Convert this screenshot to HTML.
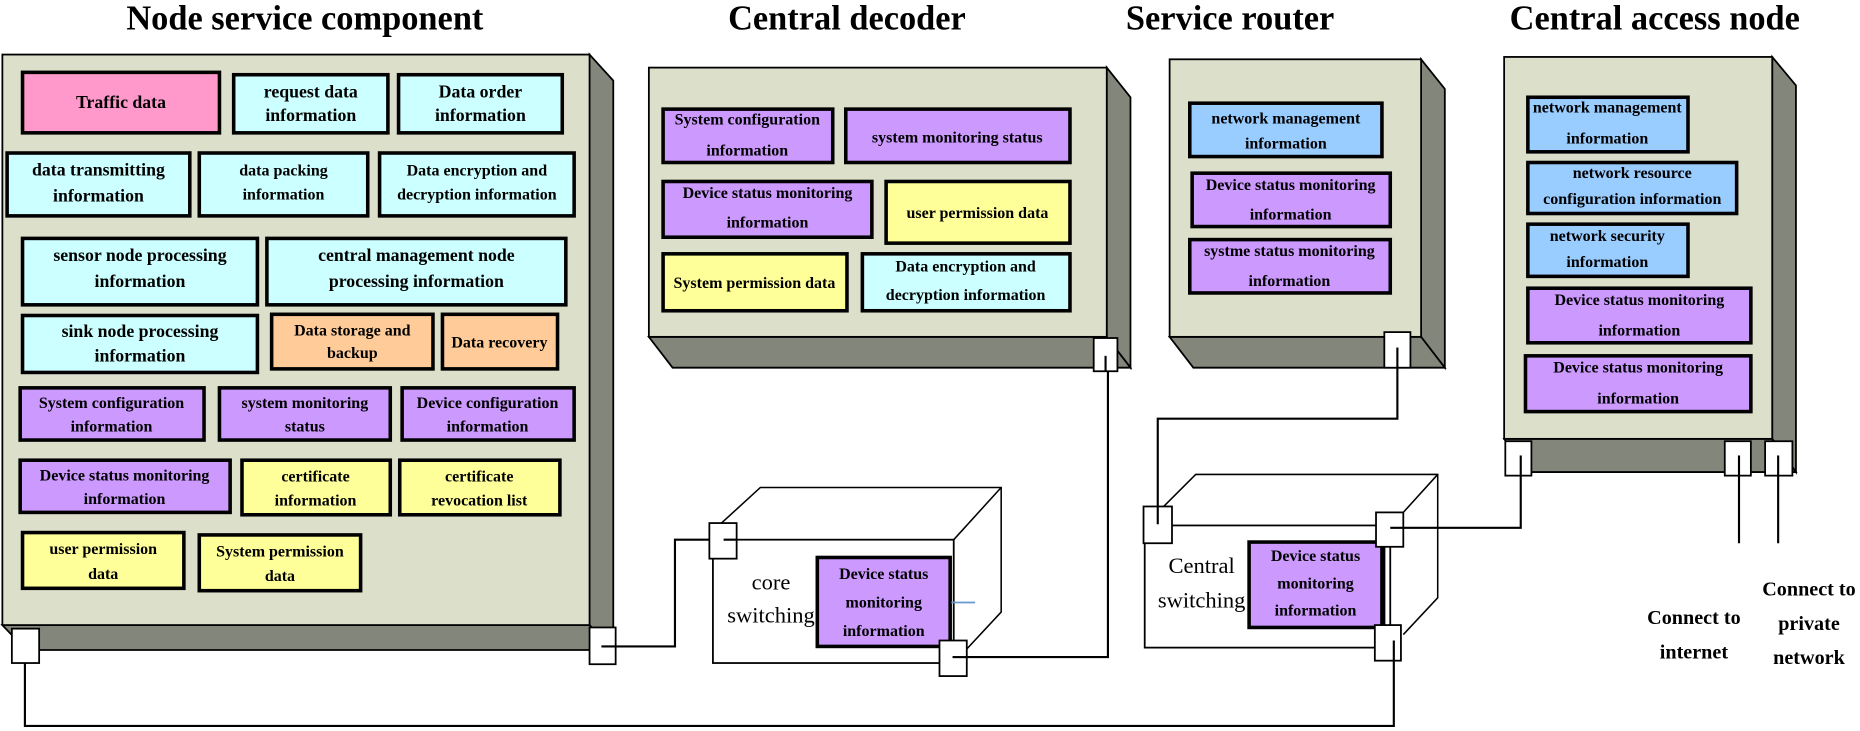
<!DOCTYPE html>
<html><head><meta charset="utf-8"><style>
html,body{margin:0;padding:0;background:#fff;}
svg{display:block;}
text{font-family:"Liberation Serif",serif;}
.t{font-weight:bold;font-size:15px;text-anchor:middle;fill:#000;}
.s{font-weight:bold;font-size:13.5px;text-anchor:middle;fill:#000;}
.h{font-weight:bold;font-size:29px;text-anchor:middle;}
.b{stroke:#000;stroke-width:3;}
.face{fill:#dcdfca;stroke:#000;stroke-width:1.5;}
.side{fill:#83867a;stroke:#000;stroke-width:1.5;}
.port{fill:#fff;stroke:#000;stroke-width:1.5;}
.ln{fill:none;stroke:#000;stroke-width:1.8;}
</style></head><body>
<svg width="1860" height="731" viewBox="0 0 1568 616.3" preserveAspectRatio="none" xmlns="http://www.w3.org/2000/svg">
<!-- titles -->
<text class="h" x="257" y="25">Node service component</text>
<text class="h" x="714" y="25">Central decoder</text>
<text class="h" x="1037" y="25">Service router</text>
<text class="h" x="1395" y="25">Central access node</text>

<!-- connectors -->
<polyline class="ln" points="507,545 569,545 569,455 612,455"/>
<polyline class="ln" points="803,554 934,554 934,300"/>
<polyline class="ln" points="1178,295 1178,353 976,353 976,442"/>
<polyline class="ln" points="1282,386 1282,445 1172,445"/>
<polyline class="ln" points="21,545 21,612 1175,612 1175,540"/>
<line class="ln" x1="1466" y1="390" x2="1466" y2="458"/>
<line class="ln" x1="1499" y1="390" x2="1499" y2="458"/>

<!-- Node service component -->
<polygon class="side" points="497,46 517,68 517,548 497,527"/>
<polygon class="side" points="2,527 497,527 517,548 22,548"/>
<rect class="face" x="2" y="46" width="495" height="481"/>

<rect class="b" x="19" y="61" width="166" height="51" fill="#ff99cc"/>
<text class="t" x="102" y="91">Traffic data</text>
<rect class="b" x="197" y="63" width="130" height="49" fill="#ccffff"/>
<text class="t" x="262" y="82">request data</text><text class="t" x="262" y="102">information</text>
<rect class="b" x="336" y="63" width="138" height="49" fill="#ccffff"/>
<text class="t" x="405" y="82">Data order</text><text class="t" x="405" y="102">information</text>

<rect class="b" x="6" y="129" width="154" height="53" fill="#ccffff"/>
<text class="t" x="83" y="148">data transmitting</text><text class="t" x="83" y="170">information</text>
<rect class="b" x="168" y="129" width="142" height="53" fill="#ccffff"/>
<text class="s" x="239" y="148">data packing</text><text class="s" x="239" y="168">information</text>
<rect class="b" x="320" y="129" width="164" height="53" fill="#ccffff"/>
<text class="s" x="402" y="148">Data encryption and</text><text class="s" x="402" y="168">decryption information</text>

<rect class="b" x="19" y="201" width="198" height="56" fill="#ccffff"/>
<text class="t" x="118" y="220">sensor node processing</text><text class="t" x="118" y="242">information</text>
<rect class="b" x="225" y="201" width="252" height="56" fill="#ccffff"/>
<text class="t" x="351" y="220">central management node</text><text class="t" x="351" y="242">processing information</text>

<rect class="b" x="19" y="266" width="198" height="48" fill="#ccffff"/>
<text class="t" x="118" y="284">sink node processing</text><text class="t" x="118" y="305">information</text>
<rect class="b" x="229" y="265" width="136" height="46" fill="#ffcc99"/>
<text class="s" x="297" y="283">Data storage and</text><text class="s" x="297" y="302">backup</text>
<rect class="b" x="373" y="265" width="97" height="46" fill="#ffcc99"/>
<text class="s" x="421" y="293">Data recovery</text>

<rect class="b" x="17" y="327" width="155" height="44" fill="#cc99ff"/>
<text class="s" x="94" y="344">System configuration</text><text class="s" x="94" y="364">information</text>
<rect class="b" x="185" y="327" width="144" height="44" fill="#cc99ff"/>
<text class="s" x="257" y="344">system monitoring</text><text class="s" x="257" y="364">status</text>
<rect class="b" x="339" y="327" width="145" height="44" fill="#cc99ff"/>
<text class="s" x="411" y="344">Device configuration</text><text class="s" x="411" y="364">information</text>

<rect class="b" x="17" y="388" width="177" height="44" fill="#cc99ff"/>
<text class="s" x="105" y="405">Device status monitoring</text><text class="s" x="105" y="425">information</text>
<rect class="b" x="204" y="388" width="125" height="46" fill="#ffff99"/>
<text class="s" x="266" y="406">certificate</text><text class="s" x="266" y="426">information</text>
<rect class="b" x="337" y="388" width="135" height="46" fill="#ffff99"/>
<text class="s" x="404" y="406">certificate</text><text class="s" x="404" y="426">revocation list</text>

<rect class="b" x="19" y="449" width="136" height="47" fill="#ffff99"/>
<text class="s" x="87" y="467">user permission</text><text class="s" x="87" y="488">data</text>
<rect class="b" x="168" y="451" width="136" height="47" fill="#ffff99"/>
<text class="s" x="236" y="469">System permission</text><text class="s" x="236" y="490">data</text>

<rect class="port" x="10" y="530" width="23" height="29"/>
<rect class="port" x="497" y="529" width="22" height="31"/>
<line class="ln" x1="507" y1="545" x2="519" y2="545"/>

<!-- Central decoder -->
<polygon class="side" points="933,57 953,82 953,310 933,284"/>
<polygon class="side" points="547,284 933,284 953,310 567,310"/>
<rect class="face" x="547" y="57" width="386" height="227"/>
<rect class="b" x="559" y="92" width="143" height="45" fill="#cc99ff"/>
<text class="s" x="630" y="105">System configuration</text><text class="s" x="630" y="131">information</text>
<rect class="b" x="713" y="92" width="189" height="45" fill="#cc99ff"/>
<text class="s" x="807" y="120">system monitoring status</text>
<rect class="b" x="559" y="153" width="176" height="47" fill="#cc99ff"/>
<text class="s" x="647" y="167">Device status monitoring</text><text class="s" x="647" y="192">information</text>
<rect class="b" x="747" y="153" width="155" height="52" fill="#ffff99"/>
<text class="s" x="824" y="184">user permission data</text>
<rect class="b" x="559" y="214" width="155" height="48" fill="#ffff99"/>
<text class="s" x="636" y="243">System permission data</text>
<rect class="b" x="727" y="214" width="175" height="48" fill="#ccffff"/>
<text class="s" x="814" y="229">Data encryption and</text><text class="s" x="814" y="253">decryption information</text>
<rect class="port" x="922" y="285" width="20" height="28"/>
<line class="ln" x1="932" y1="300" x2="932" y2="313"/>

<!-- Service router -->
<polygon class="side" points="1198,50 1218,75 1218,310 1198,284"/>
<polygon class="side" points="986,284 1198,284 1218,310 1006,310"/>
<rect class="face" x="986" y="50" width="212" height="234"/>
<rect class="b" x="1003" y="87" width="162" height="45" fill="#99ccff"/>
<text class="s" x="1084" y="104">network management</text><text class="s" x="1084" y="125">information</text>
<rect class="b" x="1005" y="146" width="167" height="45" fill="#cc99ff"/>
<text class="s" x="1088" y="160">Device status monitoring</text><text class="s" x="1088" y="185">information</text>
<rect class="b" x="1003" y="202" width="169" height="45" fill="#cc99ff"/>
<text class="s" x="1087" y="216">systme status monitoring</text><text class="s" x="1087" y="241">information</text>
<rect class="port" x="1167" y="280" width="22" height="30"/>
<line class="ln" x1="1178" y1="293" x2="1178" y2="310"/>

<!-- Central access node -->
<polygon class="side" points="1494,48 1514,72 1514,398 1494,370"/>
<polygon class="side" points="1268,370 1494,370 1514,398 1288,398"/>
<rect class="face" x="1268" y="48" width="226" height="322"/>
<rect class="b" x="1288" y="82" width="135" height="46" fill="#99ccff"/>
<text class="s" x="1355" y="95">network management</text><text class="s" x="1355" y="121">information</text>
<rect class="b" x="1288" y="137" width="176" height="43" fill="#99ccff"/>
<text class="s" x="1376" y="150">network resource</text><text class="s" x="1376" y="172">configuration information</text>
<rect class="b" x="1288" y="189" width="135" height="44" fill="#99ccff"/>
<text class="s" x="1355" y="203">network security</text><text class="s" x="1355" y="225">information</text>
<rect class="b" x="1288" y="243" width="188" height="46" fill="#cc99ff"/>
<text class="s" x="1382" y="257">Device status monitoring</text><text class="s" x="1382" y="283">information</text>
<rect class="b" x="1286" y="300" width="190" height="47" fill="#cc99ff"/>
<text class="s" x="1381" y="314">Device status monitoring</text><text class="s" x="1381" y="340">information</text>
<rect class="port" x="1269" y="372" width="22" height="29"/>
<rect class="port" x="1454" y="372" width="22" height="29"/>
<rect class="port" x="1488" y="372" width="23" height="29"/>
<line class="ln" x1="1282" y1="384" x2="1282" y2="401"/>
<line class="ln" x1="1466" y1="384" x2="1466" y2="401"/>
<line class="ln" x1="1499" y1="384" x2="1499" y2="401"/>
<text class="t" style="font-size:17px" x="1428" y="526">Connect to</text>
<text class="t" style="font-size:17px" x="1428" y="555">internet</text>
<text class="t" style="font-size:17px" x="1525" y="502">Connect to</text>
<text class="t" style="font-size:17px" x="1525" y="531">private</text>
<text class="t" style="font-size:17px" x="1525" y="560">network</text>

<!-- core switching -->
<polyline class="ln" style="stroke-width:1.3" points="606,443 641,411 844,411 844,516 804,559"/>
<line class="ln" style="stroke-width:1.3" x1="844" y1="411" x2="804" y2="455"/>
<rect x="601" y="455" width="203" height="104" fill="#fff" stroke="#000" stroke-width="1.5"/>
<rect class="b" x="689" y="470" width="112" height="75" fill="#cc99ff"/>
<text class="s" x="745" y="488">Device status</text><text class="s" x="745" y="512">monitoring</text><text class="s" x="745" y="536">information</text>
<line x1="802" y1="508" x2="822" y2="508" stroke="#6699cc" stroke-width="1.5"/>
<text x="650" y="497" style="font-size:19px" text-anchor="middle">core</text>
<text x="650" y="525" style="font-size:19px" text-anchor="middle">switching</text>
<rect class="port" x="598" y="441" width="23" height="30"/>
<line class="ln" x1="610" y1="455" x2="621" y2="455"/>
<rect class="port" x="792" y="540" width="23" height="30"/>
<line class="ln" x1="803" y1="554" x2="815" y2="554"/>

<!-- central switching -->
<polyline class="ln" style="stroke-width:1.3" points="981,427 1008,400 1212,400 1212,504 1183,535"/>
<line class="ln" style="stroke-width:1.3" x1="1212" y1="400" x2="1183" y2="432"/>
<rect x="965" y="443" width="207" height="103" fill="#fff" stroke="#000" stroke-width="1.5"/>
<line class="ln" x1="1167" y1="461" x2="1167" y2="527"/>
<rect class="b" x="1053" y="457" width="112" height="72" fill="#cc99ff"/>
<text class="s" x="1109" y="473">Device status</text><text class="s" x="1109" y="496">monitoring</text><text class="s" x="1109" y="519">information</text>
<text x="1013" y="483" style="font-size:19px" text-anchor="middle">Central</text>
<text x="1013" y="512" style="font-size:19px" text-anchor="middle">switching</text>
<rect class="port" x="964" y="427" width="24" height="31"/>
<line class="ln" x1="976" y1="427" x2="976" y2="442"/>
<rect class="port" x="1160" y="432" width="23" height="29"/>
<line class="ln" x1="1172" y1="445" x2="1183" y2="445"/>
<rect class="port" x="1159" y="527" width="22" height="30"/>
<line class="ln" x1="1175" y1="540" x2="1175" y2="557"/>
</svg>
</body></html>
